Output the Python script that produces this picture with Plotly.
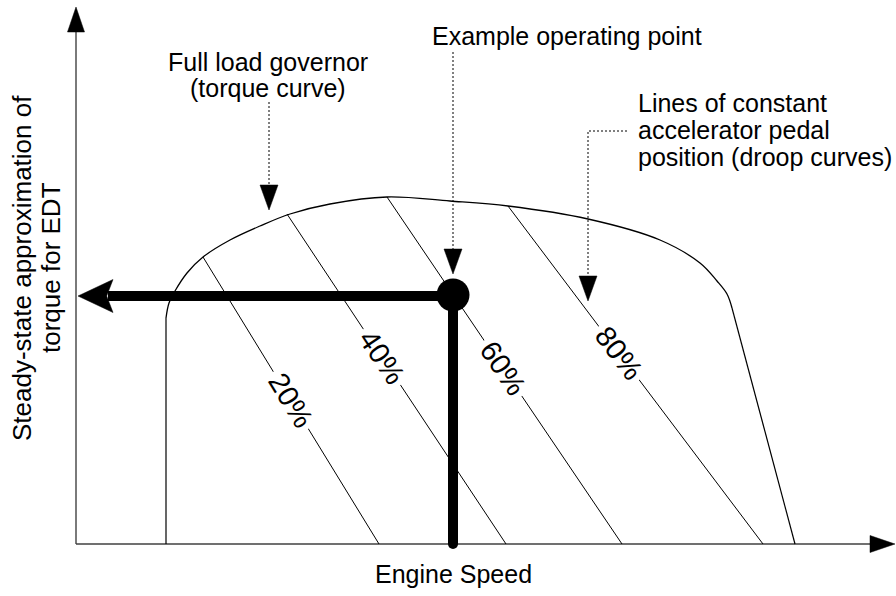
import math
import plotly.graph_objects as go

# ---- schematic coordinate frame (horizontal 0..896, vertical 0..596 measured downward)
W, H = 896, 596
AXIS_X0, AXIS_Y0 = 76, 544          # origin of the speed / torque axes
X_AXIS_TIP = 895
Y_AXIS_TIP = 7

# ---- full load torque curve
LOW_IDLE_X = [166, 166]
LOW_IDLE_Y = [544, 318]
TORQUE_X = [166, 169, 175, 187, 203, 230, 260, 290, 330, 387, 450, 508, 588, 660, 700, 717, 727, 732]
TORQUE_Y = [318, 303, 291, 273, 257, 240, 226, 214, 204, 197, 201, 206, 219, 240, 263, 281, 294, 308]
HIGH_IDLE_X = [732, 795]
HIGH_IDLE_Y = [308, 544]

# ---- droop curves (constant accelerator pedal position)
DROOP_LABELS = ["20%", "40%", "60%", "80%"]
DROOP_TOP_X = [203, 287, 387, 508]
DROOP_TOP_Y = [257, 214, 197, 206]
DROOP_BOTTOM_X = [379, 506, 622, 763]
DROOP_LABEL_Y = [400, 357, 368, 353]

# ---- example operating point
OP_X, OP_Y = 453, 295
TORQUE_ARROW_TIP_X = 78

# ---- texts
X_TITLE = "Engine Speed"
Y_TITLE_LINES = ["Steady-state approximation of", "torque for EDT"]
GOV_TEXT = ["Full load governor", "(torque curve)"]
OP_TEXT = "Example operating point"
DROOP_TEXT = ["Lines of constant", "accelerator pedal", "position (droop curves)"]

# ---- leaders (dotted) : path points, ending with arrow tip
GOV_LEADER_X = [269, 269]
GOV_LEADER_Y = [102, 210]
OP_LEADER_X = [453, 453]
OP_LEADER_Y = [52, 274]
DROOP_LEADER_X = [627, 588, 588]
DROOP_LEADER_Y = [131, 131, 301]

FONT = "Arial, Liberation Sans, sans-serif"
FS = 25

fig = go.Figure()


def line(xs, ys, width=1.0, color="black", dash=None, shape="linear"):
    fig.add_trace(go.Scatter(x=xs, y=ys, mode="lines",
                             line=dict(width=width, color=color, dash=dash, shape=shape),
                             hoverinfo="skip"))


def head(tip_x, tip_y, dx, dy, length=25, half=8.5, notch=0.0):
    # dx,dy unit direction of arrow travel
    bx, by = tip_x - dx * length, tip_y - dy * length
    px, py = -dy, dx
    nx, ny = tip_x - dx * length * (1 - notch), tip_y - dy * length * (1 - notch)
    xs = [tip_x, bx + px * half, nx, bx - px * half, tip_x]
    ys = [tip_y, by + py * half, ny, by - py * half, tip_y]
    fig.add_trace(go.Scatter(x=xs, y=ys, mode="lines", fill="toself",
                             fillcolor="black", line=dict(width=0.5, color="black"),
                             hoverinfo="skip"))


# axes
line([AXIS_X0, AXIS_X0], [AXIS_Y0, Y_AXIS_TIP + 20], width=2, color="#7a7a7a")
line([AXIS_X0, X_AXIS_TIP - 20], [AXIS_Y0, AXIS_Y0], width=1.3, color="#404040")
head(AXIS_X0, Y_AXIS_TIP, 0, -1, length=25, half=8.5)
head(X_AXIS_TIP, AXIS_Y0, 1, 0, length=25, half=8.5)

# droop lines
for tx, ty, bx in zip(DROOP_TOP_X, DROOP_TOP_Y, DROOP_BOTTOM_X):
    line([tx, bx], [ty, AXIS_Y0], width=1.0)

# torque curve
line(LOW_IDLE_X, LOW_IDLE_Y, width=1.2)
line(TORQUE_X, TORQUE_Y, width=1.3, shape="spline")
line(HIGH_IDLE_X, HIGH_IDLE_Y, width=1.2)

# dotted leaders with arrow heads
for lx, ly in [(GOV_LEADER_X, GOV_LEADER_Y), (OP_LEADER_X, OP_LEADER_Y), (DROOP_LEADER_X, DROOP_LEADER_Y)]:
    line(lx[:-1] + [lx[-1]], ly[:-1] + [ly[-1] - 22], width=1, dash="2px,2px")
    head(lx[-1], ly[-1], 0, 1, length=25, half=9)

# operating point: thick arrows
line([TORQUE_ARROW_TIP_X + 30, OP_X], [OP_Y + 1, OP_Y + 1], width=10)
head(TORQUE_ARROW_TIP_X, OP_Y + 1, -1, 0, length=35, half=16.5, notch=0.18)
line([OP_X, OP_X], [OP_Y, AXIS_Y0], width=10)
fig.add_trace(go.Scatter(x=[OP_X], y=[AXIS_Y0], mode="markers",
                         marker=dict(size=10, color="black"), hoverinfo="skip"))
fig.add_trace(go.Scatter(x=[OP_X], y=[OP_Y], mode="markers",
                         marker=dict(size=33, color="black"), hoverinfo="skip"))

ann = []


def text(t, x, y, xanchor="center", angle=0, size=FS, bg=None, pad=1):
    ann.append(dict(text=t, x=x, y=y, xref="x", yref="y", showarrow=False,
                    xanchor=xanchor, yanchor="middle", textangle=angle,
                    font=dict(family=FONT, size=size, color="black"),
                    bgcolor=bg, borderpad=pad))


# droop labels (white box interrupts the line)
for lab, tx, ty, bx, ly in zip(DROOP_LABELS, DROOP_TOP_X, DROOP_TOP_Y, DROOP_BOTTOM_X, DROOP_LABEL_Y):
    frac = (ly - ty) / (AXIS_Y0 - ty)
    lx = tx + frac * (bx - tx)
    ang = math.degrees(math.atan2(AXIS_Y0 - ty, bx - tx))
    text(lab, lx, ly, angle=ang, size=29, bg="white", pad=4)

text(GOV_TEXT[0], 268, 62)
text(GOV_TEXT[1], 268, 88)
text(OP_TEXT, 430, 36, xanchor="left")
for i, t in enumerate(DROOP_TEXT):
    text(t, 636, 103 + 27 * i, xanchor="left")
text(X_TITLE, 453, 574)
text(Y_TITLE_LINES[0], 22, 268, angle=-90, size=26)
text(Y_TITLE_LINES[1], 51, 268, angle=-90, size=26)

fig.update_layout(
    width=W, height=H, margin=dict(l=0, r=0, t=0, b=0),
    paper_bgcolor="white", plot_bgcolor="white", showlegend=False,
    xaxis=dict(range=[0, W], visible=False, fixedrange=True),
    yaxis=dict(range=[H, 0], visible=False, fixedrange=True),
    annotations=ann,
)

fig.write_html("out.html", config={"displayModeBar": False},
               post_script="document.body.style.margin='0px';")
